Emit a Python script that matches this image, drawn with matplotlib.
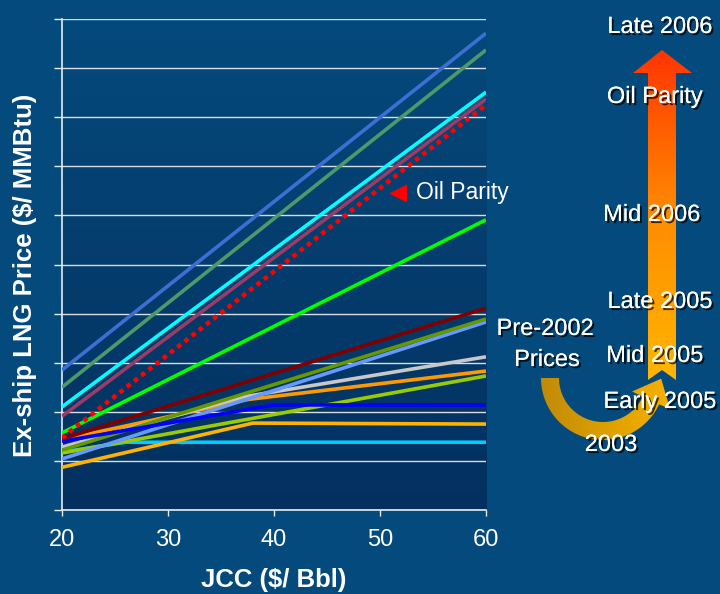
import numpy as np
import matplotlib
matplotlib.use('Agg')
import matplotlib.pyplot as plt
import matplotlib.patheffects as pe
from matplotlib.patches import Polygon
from matplotlib.colors import LinearSegmentedColormap

plt.rcParams['font.family'] = ['Liberation Sans', 'DejaVu Sans']

# contract price formulas, ex-ship LNG price vs JCC
jcc_ends = [20, 60]
royal_price = [4.85, 11.71]
seagreen_price = [4.50, 11.37]
cyan_price = [4.10, 10.51]
plum_price = [3.91, 10.37]
oil_parity_price = [3.47, 10.25]
green_price = [3.57, 7.91]
darkred_price = [3.45, 6.11]
olive_price = [3.22, 5.89]
lightblue_price = [3.04, 5.83]
yellowgreen_price = [3.16, 4.73]

# S-curve contracts (kinked)
gray_jcc = [20, 37, 60]
gray_price = [3.28, 4.30, 5.12]
orange_jcc = [20, 37.5, 60]
orange_price = [3.43, 4.25, 4.83]
blue_jcc = [20, 40, 60]
blue_price = [3.40, 4.14, 4.14]
gold_jcc = [20, 38, 60]
gold_price = [2.87, 3.77, 3.75]
skyblue_jcc = [20, 26, 60]
skyblue_price = [3.18, 3.38, 3.38]

x_ticks = [20, 30, 40, 50, 60]

fig = plt.figure(figsize=(7.2, 5.94), dpi=100)
fig.patch.set_facecolor('#054a7c')
ax = fig.add_axes([62/720, 1 - 510/594, 424/720, 491/594])

# plot area gradient
bg = LinearSegmentedColormap.from_list('bg', ['#03305f', '#054a7c'])
ax.imshow(np.linspace(0, 1, 256).reshape(-1, 1), extent=[20, 60, 2, 12],
          origin='lower', aspect='auto', cmap=bg, zorder=0)

series = [
    (skyblue_jcc, skyblue_price, '#00ccff'),
    (gold_jcc, gold_price, '#ffb300'),
    (jcc_ends, yellowgreen_price, '#99cc00'),
    (orange_jcc, orange_price, '#ff9900'),
    (gray_jcc, gray_price, '#c8c8c8'),
    (jcc_ends, lightblue_price, '#6699ff'),
    (jcc_ends, olive_price, '#669900'),
    (blue_jcc, blue_price, '#0000ff'),
    (jcc_ends, darkred_price, '#800000'),
    (jcc_ends, green_price, '#00ff00'),
    (jcc_ends, plum_price, '#993d66'),
    (jcc_ends, cyan_price, '#00ffff'),
    (jcc_ends, seagreen_price, '#4c9a6a'),
    (jcc_ends, royal_price, '#3c6fd6'),
]
for xs, ys, c in series:
    ax.plot(xs, ys, color=c, lw=2.6, solid_capstyle='butt', zorder=3)
ax.plot(jcc_ends, oil_parity_price, color='#ff0000', lw=3.3,
        ls=(0, (1, 1)), dash_capstyle='butt', zorder=4)

ax.set_xlim(20, 60)
ax.set_ylim(2, 12)
ax.set_xticks(x_ticks)
ax.set_yticks(range(2, 13))
ax.set_yticklabels([])
ax.yaxis.grid(True, color='#d9dee6', lw=1)
ax.set_axisbelow(True)
for s in ['top', 'right']:
    ax.spines[s].set_visible(False)
for s in ['left', 'bottom']:
    ax.spines[s].set_color('#e8ecf0')
    ax.spines[s].set_linewidth(1.2)
ax.tick_params(axis='y', direction='out', length=6, color='#e8ecf0', width=1)
ax.tick_params(axis='x', direction='out', length=4, color='#e8ecf0', width=1,
               labelsize=17, labelcolor='white', pad=10)

fig.text(274/720, 1 - 580/594, 'JCC ($/ Bbl)', ha='center', va='center',
         color='white', fontsize=18.5, fontweight='bold')
fig.text(25/720, 1 - 275/594, 'Ex-ship LNG Price ($/ MMBtu)', ha='center',
         va='center', rotation=90, color='white', fontsize=18.5, fontweight='bold')

# overlay in pixel coordinates for the timeline arrows and notes
ov = fig.add_axes([0, 0, 1, 1], zorder=5)
ov.set_xlim(0, 720)
ov.set_ylim(594, 0)
ov.axis('off')
ov.patch.set_alpha(0)

ov.plot([398], [193], marker='<', color='#ff0000', ms=12, clip_on=False)
ov.text(416, 193, 'Oil Parity', color='white', fontsize=16.5, va='center', ha='left')

# vertical arrow
up_pts = [(648, 380), (648, 73), (633, 73), (662, 50), (692, 73),
          (676, 73), (676, 380), (662, 370)]
up_poly = Polygon(up_pts, closed=True, facecolor='none', edgecolor='none')
ov.add_patch(up_poly)
up_cmap = LinearSegmentedColormap.from_list('up', ['#ffb600', '#ff8c00', '#ff3300'])
im = ov.imshow(np.linspace(0, 1, 256).reshape(-1, 1), extent=[630, 695, 382, 48],
               origin='lower', aspect='auto', cmap=up_cmap, zorder=2)
im.set_clip_path(up_poly)

# curved arrow from pre-2002 prices
cx, cy, ro, ri = 603, 378, 62, 44
end = np.radians(25)
th = np.linspace(np.pi, end, 60)
outer = np.column_stack([cx + ro*np.cos(th), cy + ro*np.sin(th)])
inner = np.column_stack([cx + ri*np.cos(th[::-1]), cy + ri*np.sin(th[::-1])])
rm = (ro + ri) / 2
base = np.array([cx + rm*np.cos(end), cy + rm*np.sin(end)])
d = np.array([np.sin(end), -np.cos(end)])
n = np.array([np.cos(end), np.sin(end)])
head = np.array([base + n*21, base + d*24, base - n*21])
curve_pts = np.vstack([outer, head, inner])
curve_poly = Polygon(curve_pts, closed=True, facecolor='none', edgecolor='none')
ov.add_patch(curve_poly)
cur_cmap = LinearSegmentedColormap.from_list('cur', ['#c08a08', '#e0a200', '#ffb500'])
im2 = ov.imshow(np.linspace(0, 1, 256).reshape(1, -1), extent=[538, 690, 445, 370],
                origin='lower', aspect='auto', cmap=cur_cmap, zorder=2)
im2.set_clip_path(curve_poly)

ov.set_xlim(0, 720)
ov.set_ylim(594, 0)

shadow = [pe.withSimplePatchShadow(offset=(1.5, -1.5), shadow_rgbFace='#000000', alpha=0.75),
          pe.Normal()]
labels = [
    ('Late 2006', 660, 27),
    ('Oil Parity', 655, 97),
    ('Mid 2006', 652, 215),
    ('Late 2005', 660, 302),
    ('Pre-2002', 545, 329),
    ('Prices', 547, 360),
    ('Mid 2005', 655, 356),
    ('Early 2005', 660, 402),
    ('2003', 611, 445),
]
for t, x, y in labels:
    ov.text(x, y, t, color='white', fontsize=17, ha='center', va='center',
            path_effects=shadow, zorder=6)

fig.savefig('out.png', dpi=100, facecolor=fig.get_facecolor())
